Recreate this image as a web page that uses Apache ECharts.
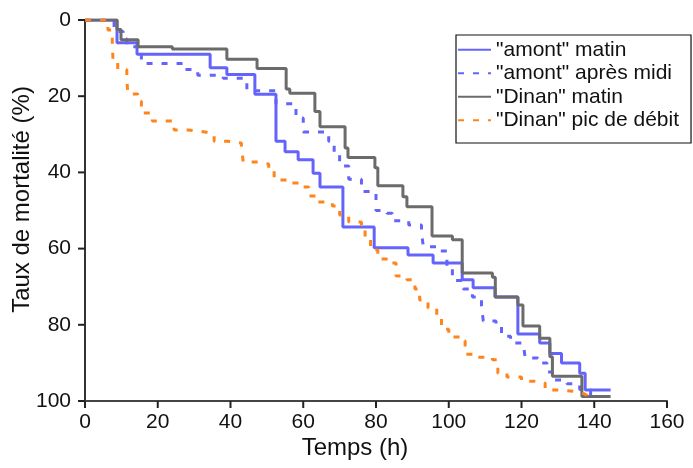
<!DOCTYPE html>
<html>
<head>
<meta charset="utf-8">
<script src="https://cdn.jsdelivr.net/npm/echarts@6/dist/echarts.min.js"></script>
<style>html,body{margin:0;padding:0;background:#fff}#c{width:693px;height:468px}</style>
</head>
<body>
<div id="c"></div>
<script>
var seriesNames = ['"amont" matin', '"amont" après midi', '"Dinan" matin', '"Dinan" pic de débit'];
var xTicks = [0, 20, 40, 60, 80, 100, 120, 140, 160];
var yTicks = [0, 20, 40, 60, 80, 100];

// [time (h), mortality (%)] – value holds from this time until the next point
var amontMatin = [[0,0],[8.8,6],[14.3,9],[34.4,12.5],[39,14.3],[46.7,19.5],[52.5,31.8],[55,34.6],[58.6,36.7],[62.7,40.2],[64.6,43.8],[70.9,54.3],[79.5,59.8],[88.8,61.7],[95.7,63.8],[103.7,68.2],[106.7,70.3],[112.7,72.7],[119,82.4],[125,84.8],[127.8,87.5],[131,90],[136,92.7],[137.5,97.1],[144.5,97.1]];
var amontApresMidi = [[0,0],[8,3],[10.5,5],[11.5,7],[14.5,9],[15.5,11.4],[27.5,13],[31,14.5],[38,15.3],[44.5,18.6],[52.5,22],[58,25.7],[60,29.4],[67,31.8],[68.5,35.2],[70,38.3],[72.5,41.8],[76,45],[80,50],[83,50.7],[84.5,52.7],[89,53.8],[92.5,55.7],[93,59.5],[96.5,60.6],[99.5,65],[101,68.4],[104,70.6],[106.5,72.7],[109,75],[109.5,79],[113,80],[114.5,83],[117,84.8],[120.5,85.3],[121,88.7],[124.5,90],[127,92.4],[128.5,94.5],[132.5,95.5],[136,97],[139,98.4],[141,98.4]];
var dinanMatin = [[0,0],[8.8,2.5],[9.9,5.2],[14.6,7],[24,7.6],[39,10.3],[47.3,12.7],[55.3,18.1],[56.3,19.2],[63.2,24],[64.6,28],[71.5,33.6],[72.3,36.1],[79.7,38.8],[80.5,43.5],[87.4,46.4],[88.5,49],[95.4,56.7],[101,57.7],[103.7,66.4],[112,67.5],[112.8,72.7],[119,74.8],[120.4,80.3],[125,83.5],[127.8,88.4],[128.5,93.5],[136.6,98.8],[144.5,98.8]];
var dinanPic = [[0,0],[6.3,2.6],[7.5,6],[7.7,10.5],[9,13],[11.5,15.7],[11.8,19.4],[14.5,21.3],[15.5,24.4],[18.5,26.5],[24.5,28.9],[28.5,29.4],[33,29.9],[35.5,31.8],[39,32.3],[43,33],[43.5,37.3],[47.5,37.8],[50.5,38.8],[52,42],[55.5,42.8],[59.5,43.8],[61.5,46.2],[64,47.8],[68,48.8],[70,51.2],[72.5,53],[76,53.8],[77,57.2],[78.5,60.4],[80.5,62.7],[84,63.8],[85.5,67.2],[88.5,68.2],[90.7,70.6],[92,73.5],[94.3,75.6],[96.7,78],[98,81.2],[100,83.2],[103.5,84.2],[104.5,87.7],[107.8,88.5],[112,89.2],[113.5,92.7],[116,93.7],[120,94.8],[123.5,95.3],[126.5,97.1],[131,97.5],[134.5,98],[137,98.5],[138,99.5]];

var FONT = 'Liberation Sans, Arial, sans-serif';
var chart = echarts.init(document.getElementById('c'), null, {renderer: 'canvas'});
function mk(name, data, color, type, z) {
  return {name: name, type: 'line', step: 'end', data: data, symbol: 'none', showSymbol: false,
    lineStyle: {color: color, width: 3, type: type}, itemStyle: {color: color}, z: z, animation: false};
}
chart.setOption({
  animation: false,
  backgroundColor: '#fff',
  grid: {left: 85, right: 26, top: 20, bottom: 67, containLabel: false, outerBoundsMode: 'none'},
  legend: {
    orient: 'vertical', left: 456, top: 35,
    data: seriesNames,
    itemWidth: 33, itemHeight: 14, itemGap: 2,
    padding: [4, 12, 12, 1],
    borderColor: '#111', borderWidth: 1.2,
    itemStyle: {opacity: 0},
    textStyle: {fontFamily: FONT, fontSize: 21, color: '#111', lineHeight: 21.5}
  },
  xAxis: {
    type: 'value', position: 'bottom', min: xTicks[0], max: xTicks[xTicks.length - 1], interval: 20,
    name: 'Temps (h)', nameLocation: 'middle', nameGap: 35, nameMoveOverlap: false,
    nameTextStyle: {fontFamily: FONT, fontSize: 24, color: '#111', padding: [0, 42, 0, 0]},
    axisLine: {show: true, onZero: false, lineStyle: {color: '#444', width: 2}},
    axisTick: {show: false},
    axisLabel: {fontFamily: FONT, fontSize: 21, color: '#111', margin: 11},
    splitLine: {show: false}
  },
  yAxis: {
    type: 'value', inverse: true, min: yTicks[0], max: yTicks[yTicks.length - 1], interval: 20,
    name: 'Taux de mortalité (%)', nameLocation: 'middle', nameGap: 51, nameMoveOverlap: false,
    nameTextStyle: {fontFamily: FONT, fontSize: 24, color: '#111', padding: [0, 0, 0, 22]},
    axisLine: {show: true, onZero: false, lineStyle: {color: '#333', width: 2}},
    axisTick: {show: false},
    axisLabel: {fontFamily: FONT, fontSize: 21, color: '#111', margin: 14},
    splitLine: {show: false}
  },
  series: [
    mk(seriesNames[0], amontMatin, '#6464fa', 'solid', 2),
    mk(seriesNames[1], amontApresMidi, '#6464fa', [6, 9], 3),
    mk(seriesNames[2], dinanMatin, '#6b6b6b', 'solid', 4),
    mk(seriesNames[3], dinanPic, '#ff8419', [6, 9], 5)
  ]
});

// Tick marks placed through the library's own scales (convertToPixel)
var tickEls = [];
var TICK = 7;
xTicks.forEach(function (v) {
  var p = chart.convertToPixel({xAxisIndex: 0, yAxisIndex: 0}, [v, yTicks[yTicks.length - 1]]);
  tickEls.push({type: 'line', silent: true, z: 10,
    shape: {x1: p[0], y1: p[1], x2: p[0], y2: p[1] + TICK},
    style: {stroke: '#222', lineWidth: 2}});
});
yTicks.forEach(function (v) {
  var p = chart.convertToPixel({xAxisIndex: 0, yAxisIndex: 0}, [xTicks[0], v]);
  tickEls.push({type: 'line', silent: true, z: 10,
    shape: {x1: p[0] - TICK, y1: p[1], x2: p[0], y2: p[1]},
    style: {stroke: '#222', lineWidth: 2}});
});
chart.setOption({graphic: {elements: tickEls}});
</script>
</body>
</html>
